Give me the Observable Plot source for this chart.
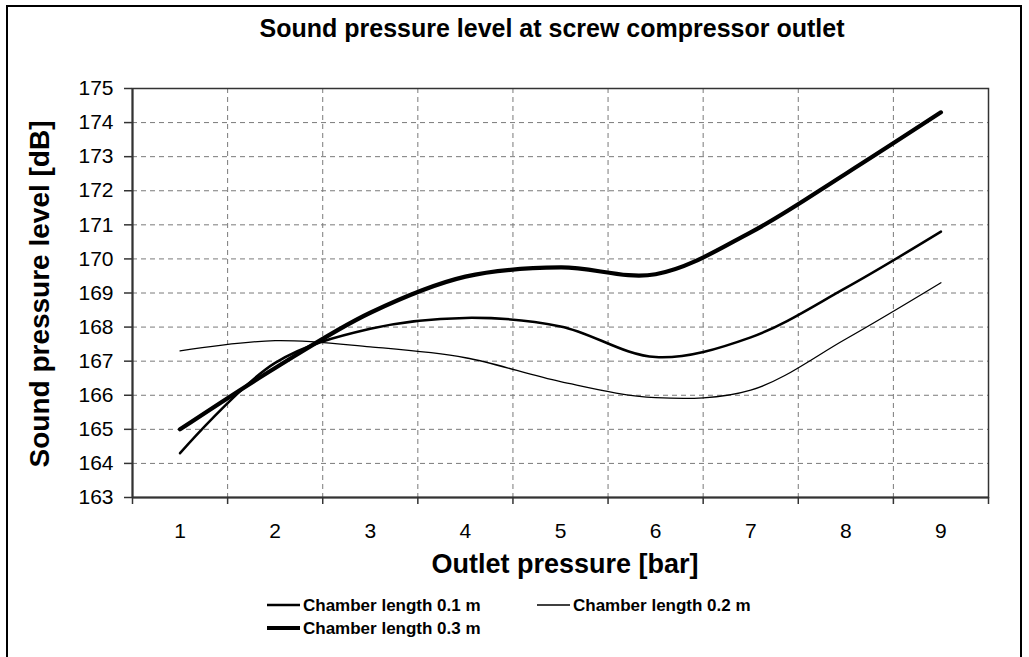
<!DOCTYPE html>
<html>
<head>
<meta charset="utf-8">
<script src="https://cdn.jsdelivr.net/npm/d3@7"></script>
<script src="https://cdn.jsdelivr.net/npm/@observablehq/plot@0.6"></script>
<style>
  html, body { margin: 0; padding: 0; background: #fff; }
  svg { display: block; }
</style>
</head>
<body>
<script>
// ---- Data ----
const pressures = [1, 2, 3, 4, 5, 6, 7, 8, 9];
const len01 = [164.3, 166.95, 167.95, 168.27, 168.02, 167.12, 167.7, 169.15, 170.8];
const len02 = [167.3, 167.6, 167.42, 167.1, 166.4, 165.93, 166.15, 167.65, 169.3];
const len03 = [165.0, 166.8, 168.42, 169.48, 169.75, 169.55, 170.78, 172.5, 174.3];
const seriesNames = ["Chamber length 0.1 m", "Chamber length 0.2 m", "Chamber length 0.3 m"];
const yTicks = [163, 164, 165, 166, 167, 168, 169, 170, 171, 172, 173, 174, 175];
const xBounds = [0.5, 1.5, 2.5, 3.5, 4.5, 5.5, 6.5, 7.5, 8.5, 9.5];
const titleText = "Sound pressure level at screw compressor outlet";
const xTitle = "Outlet pressure [bar]";
const yTitle = "Sound pressure level [dB]";

const widths = [2.5, 1.3, 4.2];
const rows = [];
[len01, len02, len03].forEach((vals, s) => {
  vals.forEach((v, i) => rows.push({x: pressures[i], y: v, s: seriesNames[s]}));
});
const drawOrder = [1, 0, 2];

const FONT = "'Liberation Sans', Arial, sans-serif";
const W = 1029, H = 657;

const plot = Plot.plot({
  width: W,
  height: H,
  marginLeft: 132,
  marginTop: 88,
  marginRight: 41,
  marginBottom: 160,
  style: {fontFamily: FONT, fontSize: "21px", color: "#000", background: "#fff"},
  x: {domain: [0.5, 9.5]},
  y: {domain: [163, 175]},
  marks: [
    Plot.gridX(xBounds.slice(1, -1), {stroke: "#7a7a7a", strokeOpacity: 1, strokeDasharray: "5,4", strokeWidth: 1}),
    Plot.gridY(yTicks.slice(1, -1), {stroke: "#7a7a7a", strokeOpacity: 1, strokeDasharray: "5,4", strokeWidth: 1}),
    Plot.frame({stroke: "#333", strokeWidth: 1.5}),
    Plot.ruleX([0.5], {stroke: "#333", strokeWidth: 2}),
    Plot.ruleY([163], {stroke: "#333", strokeWidth: 2}),
    Plot.axisY(yTicks, {tickSize: 8, tickPadding: 11, fontSize: 21, label: null, stroke: "#333", strokeWidth: 1.5, fill: "#000"}),
    Plot.axisX(xBounds, {tickSize: 7, tickFormat: () => "", label: null, stroke: "#333", strokeWidth: 1.5}),
    Plot.axisX(pressures, {tickSize: 0, tickPadding: 26, fontSize: 21, label: null, fill: "#000", tickFormat: d => String(d)}),
    ...drawOrder.map(s => Plot.line(rows.filter(r => r.s === seriesNames[s]), {
      x: "x", y: "y", stroke: "#000", strokeWidth: widths[s], curve: "catmull-rom", strokeLinecap: "round"
    }))
  ]
});

document.body.appendChild(plot);
const svg = d3.select(plot);

// outer border
svg.append("rect")
  .attr("x", 7).attr("y", 6).attr("width", 1014).attr("height", 700)
  .attr("fill", "none").attr("stroke", "#000").attr("stroke-width", 2);

// title
svg.append("text")
  .attr("x", 552).attr("y", 37)
  .attr("text-anchor", "middle")
  .style("font", `bold 25px ${FONT}`)
  .attr("fill", "#000")
  .text(titleText);

// x title
svg.append("text")
  .attr("x", 565).attr("y", 573)
  .attr("text-anchor", "middle")
  .style("font", `bold 27px ${FONT}`)
  .attr("fill", "#000")
  .text(xTitle);

// y title
svg.append("text")
  .attr("transform", "translate(49,294) rotate(-90)")
  .attr("text-anchor", "middle")
  .style("font", `bold 28px ${FONT}`)
  .attr("fill", "#000")
  .text(yTitle);

// legend
const legendItems = [
  {s: 0, x: 267, y: 605},
  {s: 1, x: 537, y: 605},
  {s: 2, x: 267, y: 628}
];
const lg = svg.append("g").attr("text-anchor", "start");
legendItems.forEach(it => {
  lg.append("line")
    .attr("x1", it.x).attr("x2", it.x + 33)
    .attr("y1", it.y).attr("y2", it.y)
    .attr("stroke", "#000").attr("stroke-width", widths[it.s]);
  lg.append("text")
    .attr("x", it.x + 36).attr("y", it.y + 6)
    .attr("text-anchor", "start")
    .style("font", `bold 17px ${FONT}`)
    .attr("fill", "#000")
    .text(seriesNames[it.s]);
});
</script>
</body>
</html>
